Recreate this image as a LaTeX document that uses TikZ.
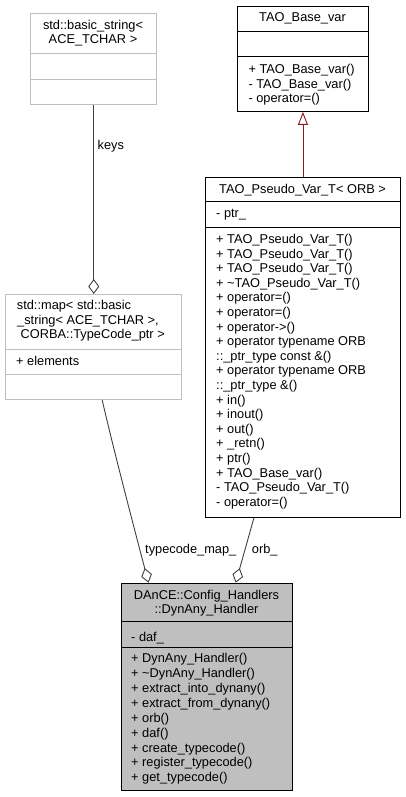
\documentclass[tikz,border=0pt]{standalone}
\usepackage{fontspec}
\setmainfont{Liberation Sans}
\usetikzlibrary{arrows.meta,calc}
\definecolor{boxgray}{HTML}{BFBFBF}
\definecolor{edgegray}{HTML}{404040}
\definecolor{inhred}{HTML}{8B1A1A}
\newcommand\umllines[5]{%
  \foreach \t [count=\i from 0] in {#5} {
    \node[txt, anchor=base west] (#1\i) at ({#2},{#3+\i*#4}) {\t};
  }}
\begin{document}
\begin{tikzpicture}[x=1pt,y=-1pt,
  txt/.style={inner sep=0pt, font=\fontsize{12.8pt}{14.6pt}\selectfont},
  umlbox/.style={draw, line width=0.9pt, inner sep=0pt, anchor=north west},
  graybox/.style={umlbox, draw=boxgray},
  darkbox/.style={umlbox, draw=black},
  sepline/.style={line width=0.9pt},
  assoc/.style={draw=edgegray, line width=0.9pt, -{Diamond[open, length=15pt, width=11pt, line width=0.9pt]}},
  inherit/.style={draw=inhred, line width=0.9pt, -{Triangle[open, length=13pt, width=10pt, line width=0.9pt]}}
]
\useasboundingbox (0,0) rectangle (405,797);

% ---- std::basic_string< ACE_TCHAR >
\node[graybox, minimum width=126pt, minimum height=91pt] (bs) at (30,13) {};
\draw[sepline, boxgray] ($(bs.north west)+(0,40)$) -- ($(bs.north east)+(0,40)$);
\draw[sepline, boxgray] ($(bs.north west)+(0,66)$) -- ($(bs.north east)+(0,66)$);
\node[txt, anchor=base] (bst1) at (93,29.5) {std::basic\_string<};
\node[txt, anchor=base] (bst2) at (93,44) {ACE\_TCHAR >};

% ---- TAO_Base_var
\node[darkbox, minimum width=131pt, minimum height=105pt] (tb) at (237,6) {};
\draw[sepline] ($(tb.north west)+(0,25.7)$) -- ($(tb.north east)+(0,25.7)$);
\draw[sepline] ($(tb.north west)+(0,50.7)$) -- ($(tb.north east)+(0,50.7)$);
\node[txt, anchor=base] (tbt) at (302.5,22) {TAO\_Base\_var};
\umllines{tbop}{248.3}{73.5}{14.6}{{+ TAO\_Base\_var()},{- TAO\_Base\_var()},{- operator=()}}

% ---- TAO_Pseudo_Var_T< ORB >
\node[darkbox, minimum width=195pt, minimum height=339.7pt] (tp) at (205,177) {};
\draw[sepline] ($(tp.north west)+(0,24.7)$) -- ($(tp.north east)+(0,24.7)$);
\draw[sepline] ($(tp.north west)+(0,50.7)$) -- ($(tp.north east)+(0,50.7)$);
\node[txt, anchor=base] (tpt) at (302.5,193) {TAO\_Pseudo\_Var\_T< ORB >};
\node[txt, anchor=base west] (tpa) at (216,217.8) {- ptr\_};
\umllines{tpop}{216}{243.5}{14.6}{{+ TAO\_Pseudo\_Var\_T()},{+ TAO\_Pseudo\_Var\_T()},{+ TAO\_Pseudo\_Var\_T()},{+ \textasciitilde TAO\_Pseudo\_Var\_T()},{+ operator=()},{+ operator=()},{+ operator->()},{+ operator typename ORB},{::\_ptr\_type const \&()},{+ operator typename ORB},{::\_ptr\_type \&()},{+ in()},{+ inout()},{+ out()},{+ \_retn()},{+ ptr()},{+ TAO\_Base\_var()},{- TAO\_Pseudo\_Var\_T()},{- operator=()}}

% ---- std::map< ... >
\node[graybox, minimum width=176pt, minimum height=105pt] (sm) at (5,294) {};
\draw[sepline, boxgray] ($(sm.north west)+(0,55)$) -- ($(sm.north east)+(0,55)$);
\draw[sepline, boxgray] ($(sm.north west)+(0,80.3)$) -- ($(sm.north east)+(0,80.3)$);
\node[txt, anchor=base west] (smt1) at (16.7,309.5) {std::map< std::basic};
\node[txt, anchor=base west] (smt2) at (17,324) {\_string< ACE\_TCHAR >,};
\node[txt, anchor=base west] (smt3) at (20.5,338.5) {CORBA::TypeCode\_ptr >};
\node[txt, anchor=base west] (sma) at (16,365.5) {+ elements};

% ---- DAnCE::Config_Handlers::DynAny_Handler
\node[darkbox, fill=boxgray, minimum width=171.6pt, minimum height=207.3pt] (dh) at (120.7,582.7) {};
\draw[sepline] ($(dh.north west)+(0,38.3)$) -- ($(dh.north east)+(0,38.3)$);
\draw[sepline] ($(dh.north west)+(0,65)$) -- ($(dh.north east)+(0,65)$);
\node[txt, anchor=base] (dht1) at (206.5,599.5) {DAnCE::Config\_Handlers};
\node[txt, anchor=base] (dht2) at (206.5,613.8) {::DynAny\_Handler};
\node[txt, anchor=base west] (dha) at (131,641) {- daf\_};
\umllines{dhop}{131}{662.8}{14.87}{{+ DynAny\_Handler()},{+ \textasciitilde DynAny\_Handler()},{+ extract\_into\_dynany()},{+ extract\_from\_dynany()},{+ orb()},{+ daf()},{+ create\_typecode()},{+ register\_typecode()},{+ get\_typecode()}}

% ---- connectors
\draw[inherit] (tp.north) -- (tb.south);
\draw[assoc] ($(bs.south)+(0.3,0)$) -- ($(sm.north)+(0.3,0)$)
  node[txt, pos=0.22, anchor=west, xshift=3.5pt] (keys) {keys};
\draw[assoc] ($(sm.south)+(8.7,0)$) .. controls (113,447) and (132,520) .. ($(dh.north west)+(27.8,0)$);
\draw[assoc] ($(tp.south west)+(49,0)$) -- ($(dh.north west)+(115,0)$);
\node[txt, anchor=base west] (tcm) at (145,553) {typecode\_map\_};
\node[txt, anchor=base west] (orb) at (251.7,553) {orb\_};
\end{tikzpicture}
\end{document}
